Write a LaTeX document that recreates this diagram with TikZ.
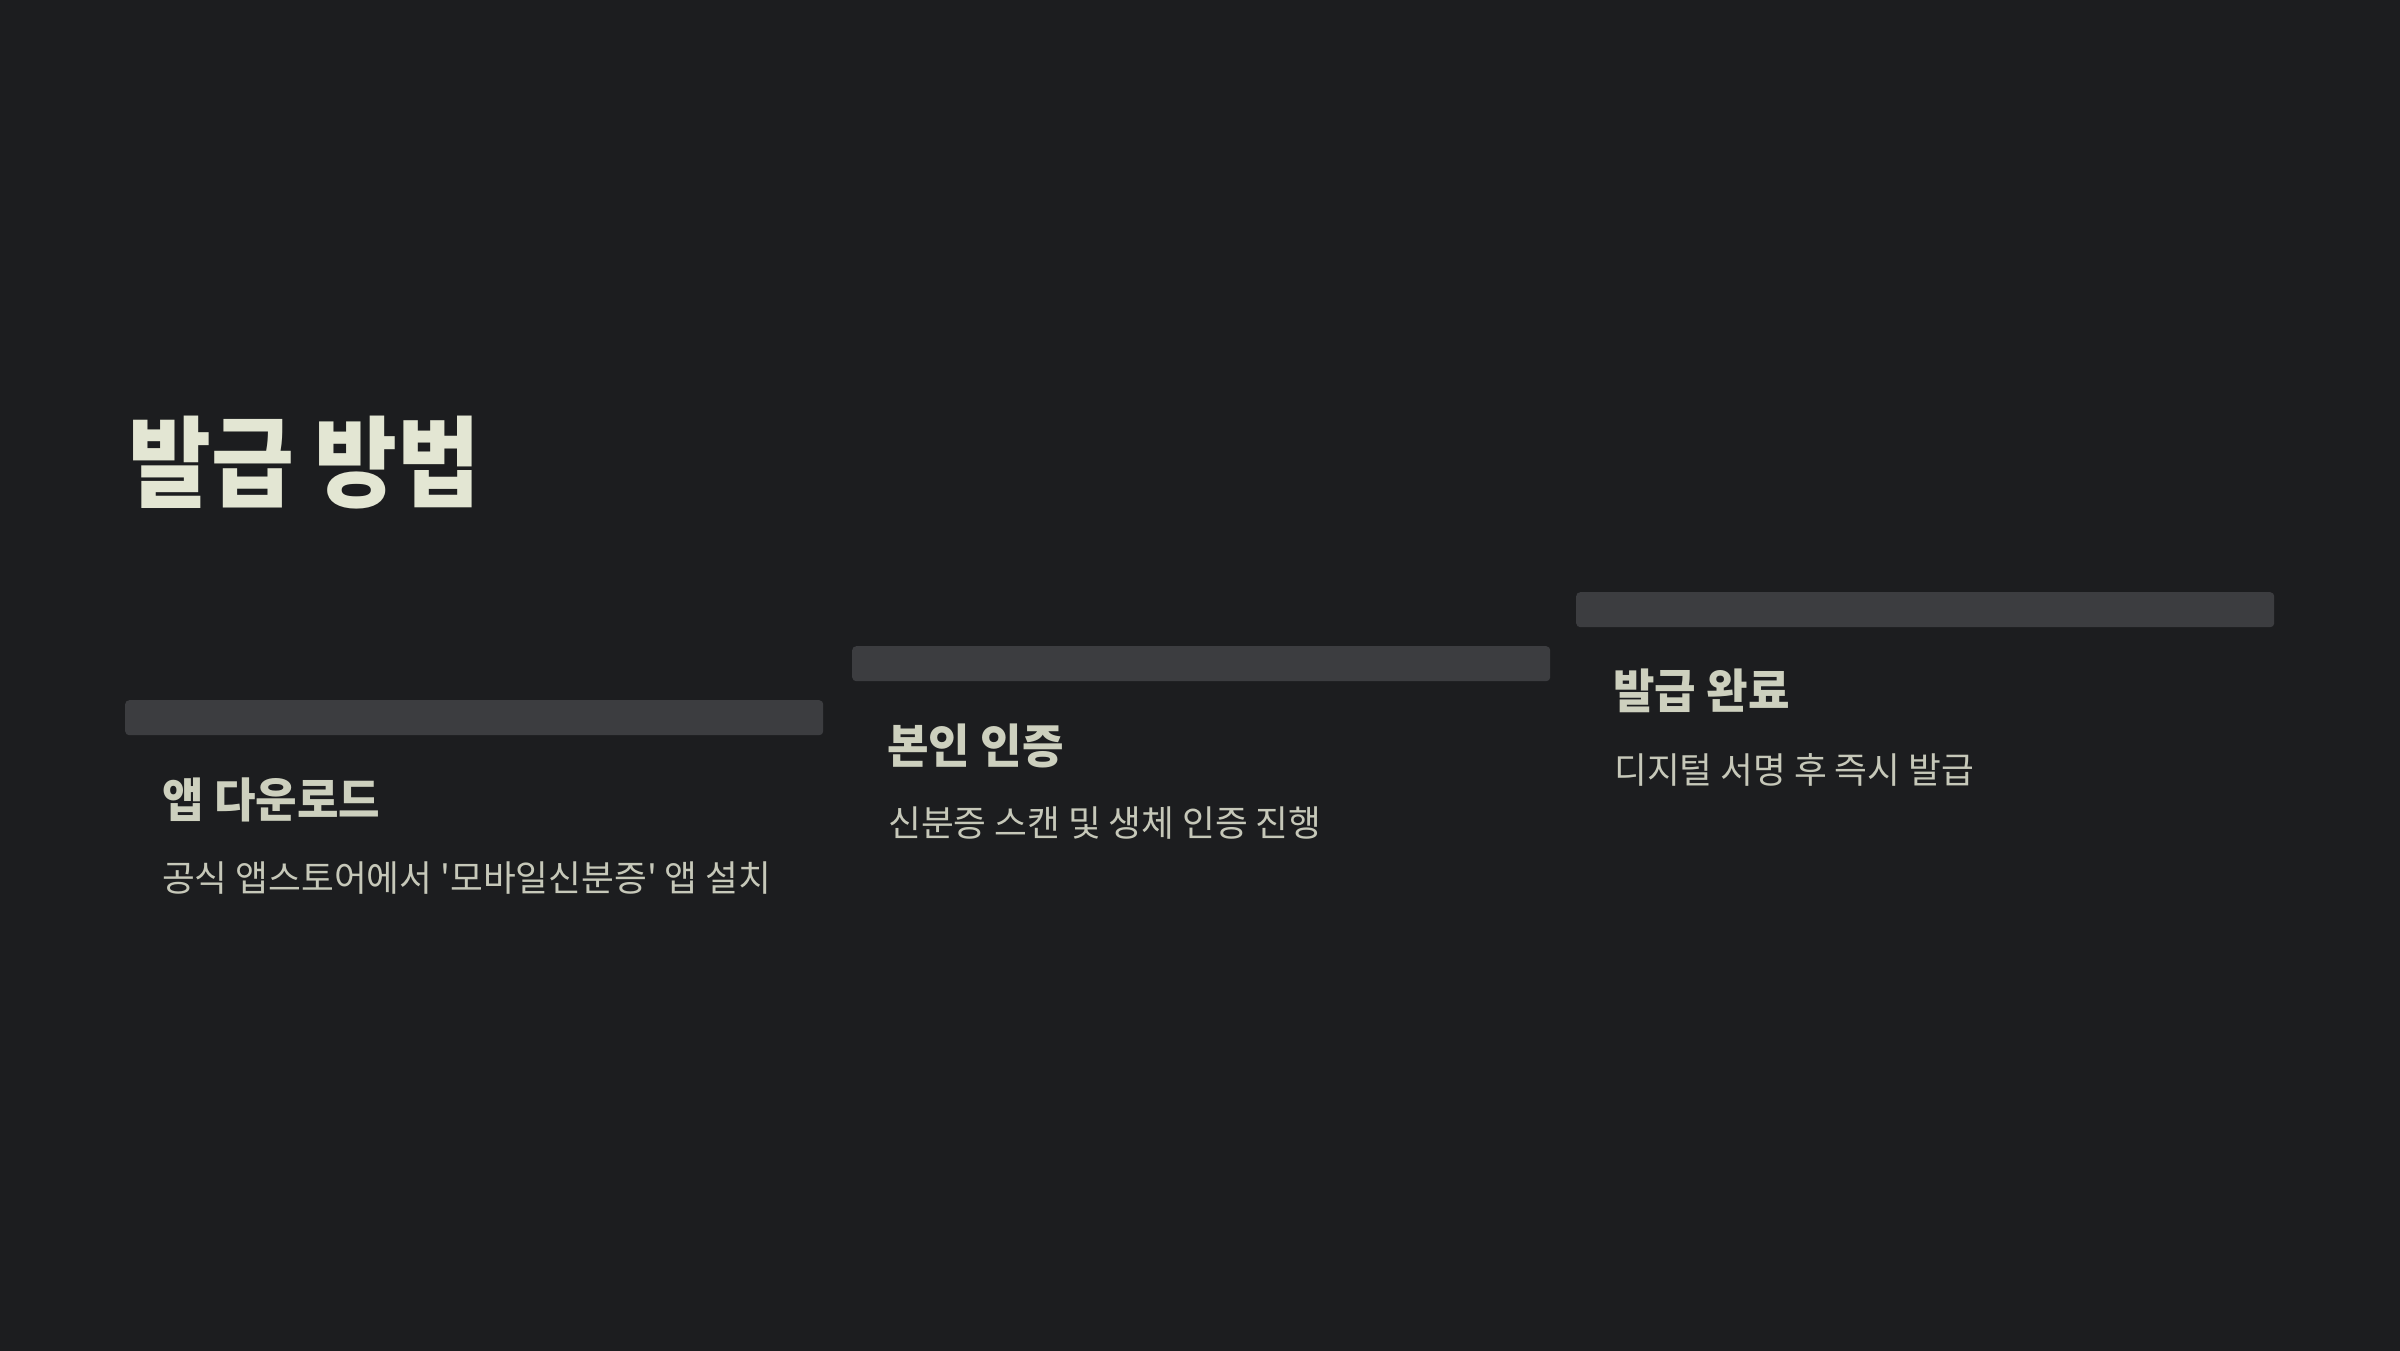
\documentclass[tikz,border=0pt]{standalone}
\usepackage{fontspec}
\newfontfamily\krtitle{Noto Sans CJK KR}[FakeStretch=0.91]
\newfontfamily\krhead{Noto Sans CJK KR}[FakeStretch=0.96]
\newfontfamily\krsub{Noto Sans CJK KR}[FakeStretch=0.99]
\definecolor{bgc}{HTML}{1C1D1F}
\definecolor{barc}{HTML}{3C3D40}
\definecolor{titlec}{HTML}{E3E6D3}
\definecolor{headc}{HTML}{CDD0BE}
\definecolor{subc}{HTML}{C6C8B9}
\tikzset{
  bar/.style={fill=barc, draw=none, rounded corners=4pt, minimum width=698pt, minimum height=35pt, inner sep=0pt, anchor=north west},
  titletxt/.style={anchor=base west, inner sep=0pt, text=titlec, font=\krtitle\bfseries\fontsize{99}{110}\selectfont},
  headtxt/.style={anchor=base west, inner sep=0pt, text=headc, font=\krhead\bfseries\fontsize{47}{56}\selectfont},
  subtxt/.style={anchor=base west, inner sep=0pt, text=subc, font=\krsub\fontsize{36}{44}\selectfont}
}
\begin{document}
\begin{tikzpicture}[x=1pt,y=-1pt]
\useasboundingbox (0,0) rectangle (2400,1350);
\fill[bgc] (-10,-10) rectangle (2410,1360);
\node[titletxt] (title) at (128,499) {발급 방법};
\node[bar] (bar1) at (125,700) {};
\node[bar] (bar2) at (852,646) {};
\node[bar] (bar3) at (1576,592) {};
\node[headtxt] (h1) at (162,817) {앱 다운로드};
\node[subtxt] (s1) at (162,891) {공식 앱스토어에서 '모바일신분증' 앱 설치};
\node[headtxt] (h2) at (887,763) {본인 인증};
\node[subtxt] (s2) at (888,836) {신분증 스캔 및 생체 인증 진행};
\node[headtxt] (h3) at (1613,708) {발급 완료};
\node[subtxt] (s3) at (1614,783) {디지털 서명 후 즉시 발급};
\end{tikzpicture}
\end{document}
